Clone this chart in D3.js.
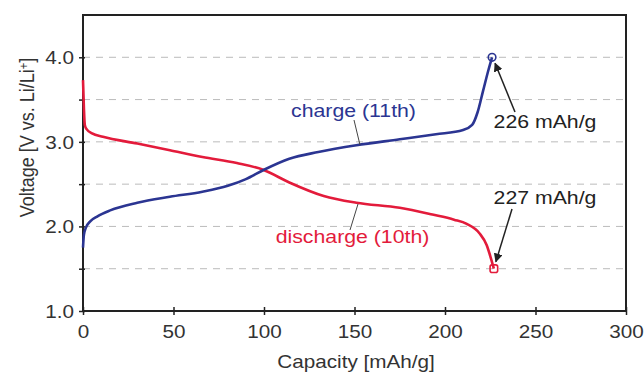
<!DOCTYPE html>
<html><head><meta charset="utf-8">
<script src="https://cdn.jsdelivr.net/npm/d3@7"></script>
<style>body{margin:0;background:#fff}svg{display:block;font-family:"Liberation Sans",Arial,sans-serif}</style>
</head><body><svg id="c" width="644" height="374"></svg>
<script>
const chargeCap = [0,0.5,1.5,4,8,15,30,48,66,80,90,100,114,130,151,175,195,210,215,218,221,224,226];
const chargeV   = [1.75,1.9,1.98,2.06,2.12,2.19,2.28,2.35,2.41,2.48,2.56,2.67,2.8,2.88,2.96,3.03,3.09,3.14,3.2,3.35,3.6,3.85,4.0];
const dischargeCap = [0,0.5,1,2,5,11,30,48,66,85,99.5,114,133,151,175,193,205,212,219,223,225,227];
const dischargeV   = [3.73,3.4,3.2,3.15,3.1,3.06,2.98,2.9,2.82,2.75,2.67,2.52,2.36,2.28,2.22,2.14,2.08,2.03,1.92,1.78,1.65,1.5];
const xTicks = [0,50,100,150,200,250,300];
const yTicks = [1.0,2.0,3.0,4.0];
const yMinor = [1.5,2.0,2.5,3.0,3.5,4.0];

const svg = d3.select("#c");
const L=83, R=626, T=15, B=311;
const SX=1.15;
const x = d3.scaleLinear().domain([0,300]).range([L,R]);
const y = d3.scaleLinear().domain([1,4.5]).range([B,T]);
const txt="#333";

function label(px,py,size,color,str){
  return svg.append("text").attr("transform",`translate(${px},${py}) scale(${SX},1)`)
    .attr("text-anchor","middle").attr("font-size",size).attr("fill",color).text(str);
}

// grid
svg.append("g").selectAll("line").data(yMinor).join("line")
  .attr("x1",L).attr("x2",R).attr("y1",d=>y(d)).attr("y2",d=>y(d))
  .attr("stroke","#bbb").attr("stroke-width",1).attr("stroke-dasharray","7,6");

// frame
svg.append("rect").attr("x",L).attr("y",T).attr("width",R-L).attr("height",B-T)
  .attr("fill","none").attr("stroke","#222").attr("stroke-width",2);

// axes
const xa = svg.append("g").attr("transform",`translate(0,${B})`)
  .call(d3.axisBottom(x).tickValues(xTicks).tickSize(4).tickFormat(d3.format("d")));
xa.select(".domain").remove();
xa.selectAll(".tick line").attr("y1",-4).attr("stroke","#222").attr("stroke-width",1.5);
xa.selectAll("text").attr("font-size",18).attr("fill",txt).attr("dy",0).attr("y",27)
  .attr("transform",`scale(${SX},1)`);

const ya = svg.append("g").attr("transform",`translate(${L},0)`)
  .call(d3.axisLeft(y).tickValues(yMinor.concat([1.0])).tickSize(4)
    .tickFormat(d=> yTicks.includes(d)? d3.format(".1f")(d):""));
ya.select(".domain").remove();
ya.selectAll(".tick line").attr("x1",-4).attr("x2",2).attr("stroke","#222").attr("stroke-width",1.5);
ya.selectAll("text").attr("font-size",18).attr("fill",txt).attr("x",-9/SX).attr("dy","0.36em")
  .attr("transform",`scale(${SX},1)`);

// axis titles
label(356,368,18,txt,"Capacity [mAh/g]");
const yt = svg.append("text").attr("transform",`translate(34,${137.5}) rotate(-90) scale(1,1.1)`)
  .attr("text-anchor","middle").attr("font-size",18).attr("fill",txt);
yt.append("tspan").text("Voltage [V vs. Li/Li");
yt.append("tspan").attr("baseline-shift","super").attr("font-size",11).text("+");
yt.append("tspan").text("]");

// curves
const line = d3.line().x(d=>x(d[0])).y(d=>y(d[1])).curve(d3.curveMonotoneX);
const blue="#2b3592", red="#e31b3b";
svg.append("path").datum(dischargeCap.map((c,i)=>[c,dischargeV[i]]))
  .attr("d",line).attr("fill","none").attr("stroke",red).attr("stroke-width",2.6);
svg.append("path").datum(chargeCap.map((c,i)=>[c,chargeV[i]]))
  .attr("d",line).attr("fill","none").attr("stroke",blue).attr("stroke-width",2.6);

// end markers
svg.append("circle").attr("cx",x(226)).attr("cy",y(4.0)).attr("r",3.8)
  .attr("fill","none").attr("stroke",blue).attr("stroke-width",1.6);
svg.append("rect").attr("x",x(227)-3.8).attr("y",y(1.5)-3.8).attr("width",7.6).attr("height",7.6).attr("rx",2)
  .attr("fill","none").attr("stroke",red).attr("stroke-width",1.6);

// arrows
const defs = svg.append("defs");
defs.append("marker").attr("id","ah").attr("viewBox","0 0 10 10").attr("refX",9).attr("refY",5)
  .attr("markerWidth",9).attr("markerHeight",9).attr("markerUnits","userSpaceOnUse").attr("orient","auto")
  .append("path").attr("d","M0,0 L10,5 L0,10 z").attr("fill","#222");
svg.append("line").attr("x1",515).attr("y1",112).attr("x2",x(226)+3).attr("y2",y(4.0)+6)
  .attr("stroke","#222").attr("stroke-width",1.5).attr("marker-end","url(#ah)");
svg.append("line").attr("x1",512).attr("y1",209).attr("x2",x(227)+2).attr("y2",y(1.5)-7)
  .attr("stroke","#222").attr("stroke-width",1.5).attr("marker-end","url(#ah)");

// annotations
label(545,128,18.5,"#222","226 mAh/g");
label(545,204,18.5,"#222","227 mAh/g");
label(353.5,117,18.5,blue,"charge (11th)");
label(352.5,243,18.5,red,"discharge (10th)");
// leader lines
svg.append("line").attr("x1",354).attr("y1",120).attr("x2",360).attr("y2",145).attr("stroke","#444").attr("stroke-width",1);
svg.append("line").attr("x1",358).attr("y1",204).attr("x2",350).attr("y2",230).attr("stroke","#444").attr("stroke-width",1);
</script></body></html>
